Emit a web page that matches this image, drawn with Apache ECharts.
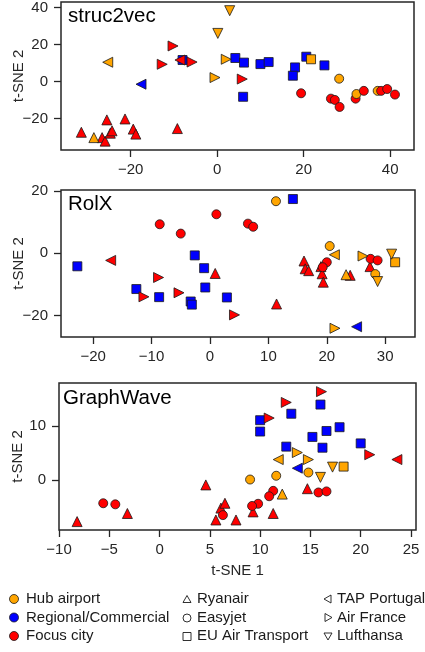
<!DOCTYPE html>
<html><head><meta charset="utf-8">
<script src="https://cdn.jsdelivr.net/npm/echarts@6/dist/echarts.min.js"></script>
<style>html,body{margin:0;padding:0;background:#fff}#c{width:425px;height:652px}</style>
</head><body><div id="c"></div>
<script>
// ---------- DATA ----------
const panelTitles = ['struc2vec', 'RolX', 'GraphWave'];
const categoryKeys = ['hub', 'reg', 'foc'];
const categoryNames = ['Hub airport', 'Regional/Commercial', 'Focus city'];
const airlineKeys = ['ryanair', 'easyjet', 'eu', 'tap', 'af', 'lh'];
const airlineNames = ['Ryanair', 'Easyjet', 'EU Air Transport', 'TAP Portugal', 'Air France', 'Lufthansa'];

// [t-SNE 1, t-SNE 2, category, airline]
const struc2vecPoints = [
  [2.9, 38.4, 'hub', 'lh'], [0.15, 26.1, 'hub', 'lh'],
  [-10.2, 19.3, 'foc', 'af'], [-12.7, 9.4, 'foc', 'af'], [-5.8, 10.6, 'foc', 'af'], [5.8, 1.4, 'foc', 'af'],
  [-25.3, 10.5, 'hub', 'tap'],
  [-8.0, 11.7, 'reg', 'eu'], [4.2, 12.8, 'reg', 'eu'], [6.2, 10.3, 'reg', 'eu'], [6.0, -8.2, 'reg', 'eu'],
  [10.0, 9.5, 'reg', 'eu'], [11.9, 10.6, 'reg', 'eu'], [20.6, 13.5, 'reg', 'eu'], [18.0, 7.7, 'reg', 'eu'],
  [17.5, 3.2, 'reg', 'eu'], [24.8, 8.8, 'reg', 'eu'],
  [-8.6, 11.7, 'foc', 'tap'],
  [-17.6, -1.4, 'reg', 'tap'],
  [2.1, 12.1, 'hub', 'af'], [-0.5, 2.2, 'hub', 'af'],
  [21.7, 12.1, 'hub', 'eu'],
  [28.2, 1.6, 'hub', 'easyjet'],
  [19.4, -6.3, 'foc', 'easyjet'], [26.3, -9.2, 'foc', 'easyjet'], [27.2, -9.9, 'foc', 'easyjet'],
  [28.3, -13.7, 'foc', 'easyjet'], [32.0, -9.2, 'foc', 'easyjet'],
  [32.2, -6.7, 'hub', 'easyjet'],
  [33.9, -5.0, 'foc', 'easyjet'],
  [37.1, -5.0, 'hub', 'easyjet'],
  [37.9, -5.0, 'foc', 'easyjet'], [39.3, -4.0, 'foc', 'easyjet'], [41.1, -7.0, 'foc', 'easyjet'],
  [-31.4, -27.4, 'foc', 'ryanair'], [-25.5, -20.7, 'foc', 'ryanair'], [-21.3, -20.2, 'foc', 'ryanair'],
  [-26.6, -30.3, 'foc', 'ryanair'], [-25.9, -32.2, 'foc', 'ryanair'], [-24.7, -27.9, 'foc', 'ryanair'],
  [-24.3, -26.6, 'foc', 'ryanair'], [-19.4, -25.7, 'foc', 'ryanair'], [-18.8, -28.4, 'foc', 'ryanair'],
  [-9.2, -25.4, 'foc', 'ryanair'],
  [-28.5, -30.3, 'hub', 'ryanair']
];

const rolxPoints = [
  [11.3, 16.7, 'hub', 'easyjet'], [20.5, 2.3, 'hub', 'easyjet'], [28.3, -6.7, 'hub', 'easyjet'],
  [14.2, 17.4, 'reg', 'eu'], [-22.7, -4.2, 'reg', 'eu'], [-2.6, -0.7, 'reg', 'eu'], [-1.0, -4.8, 'reg', 'eu'],
  [-0.8, -11.0, 'reg', 'eu'], [-12.6, -11.5, 'reg', 'eu'], [-8.7, -14.1, 'reg', 'eu'], [-3.3, -15.5, 'reg', 'eu'],
  [-3.1, -16.5, 'reg', 'eu'], [2.9, -14.2, 'reg', 'eu'],
  [-8.6, 9.3, 'foc', 'easyjet'], [-5.0, 6.3, 'foc', 'easyjet'], [1.1, 12.5, 'foc', 'easyjet'],
  [6.5, 9.5, 'foc', 'easyjet'], [7.4, 8.5, 'foc', 'easyjet'], [20.0, -2.9, 'foc', 'easyjet'],
  [19.3, -4.5, 'foc', 'easyjet'], [27.5, -1.8, 'foc', 'easyjet'], [28.7, -2.3, 'foc', 'easyjet'],
  [-17.0, -2.3, 'foc', 'tap'],
  [-8.8, -7.8, 'foc', 'af'], [-11.3, -14.0, 'foc', 'af'], [-5.3, -12.7, 'foc', 'af'], [4.2, -19.8, 'foc', 'af'],
  [0.9, -6.5, 'foc', 'ryanair'], [11.4, -16.3, 'foc', 'ryanair'], [16.1, -2.5, 'foc', 'ryanair'],
  [16.3, -5.0, 'foc', 'ryanair'], [16.9, -5.6, 'foc', 'ryanair'], [19.0, -4.3, 'foc', 'ryanair'],
  [19.2, -6.6, 'foc', 'ryanair'], [19.4, -9.3, 'foc', 'ryanair'], [24.0, -7.1, 'foc', 'ryanair'],
  [27.4, -4.3, 'foc', 'ryanair'],
  [21.3, -0.5, 'hub', 'tap'],
  [23.3, -6.9, 'hub', 'ryanair'],
  [26.2, -0.9, 'hub', 'af'], [21.4, -24.1, 'hub', 'af'],
  [28.7, -9.1, 'hub', 'lh'], [31.1, -0.3, 'hub', 'lh'],
  [31.7, -2.9, 'hub', 'eu'],
  [25.1, -23.6, 'reg', 'tap']
];

const graphwavePoints = [
  [16.1, 16.4, 'foc', 'af'], [12.6, 14.4, 'foc', 'af'], [10.9, 11.5, 'foc', 'af'], [20.9, 4.7, 'foc', 'af'],
  [23.6, 3.8, 'foc', 'tap'],
  [16.0, 14.0, 'reg', 'eu'], [13.1, 12.3, 'reg', 'eu'], [10.0, 11.1, 'reg', 'eu'], [10.0, 9.0, 'reg', 'eu'],
  [16.6, 9.1, 'reg', 'eu'], [17.9, 9.8, 'reg', 'eu'], [15.2, 8.0, 'reg', 'eu'], [12.6, 6.2, 'reg', 'eu'],
  [16.2, 6.0, 'reg', 'eu'], [20.0, 6.8, 'reg', 'eu'],
  [13.7, 5.1, 'hub', 'af'], [14.8, 3.8, 'hub', 'af'],
  [11.8, 3.8, 'hub', 'tap'],
  [13.7, 2.2, 'reg', 'tap'],
  [17.2, 2.4, 'hub', 'lh'], [16.0, 0.5, 'hub', 'lh'],
  [18.3, 2.5, 'hub', 'eu'],
  [9.0, 0.1, 'hub', 'easyjet'], [11.6, 0.8, 'hub', 'easyjet'], [14.8, 1.4, 'hub', 'easyjet'],
  [12.2, -2.6, 'hub', 'ryanair'],
  [-5.6, -4.3, 'foc', 'easyjet'], [-4.4, -4.5, 'foc', 'easyjet'], [11.3, -2.0, 'foc', 'easyjet'],
  [10.9, -3.0, 'foc', 'easyjet'], [9.8, -4.4, 'foc', 'easyjet'], [9.2, -4.8, 'foc', 'easyjet'],
  [6.3, -6.5, 'foc', 'easyjet'], [15.8, -2.3, 'foc', 'easyjet'], [16.6, -2.1, 'foc', 'easyjet'],
  [-8.2, -7.7, 'foc', 'ryanair'], [-3.2, -6.2, 'foc', 'ryanair'], [4.6, -0.9, 'foc', 'ryanair'],
  [6.1, -5.2, 'foc', 'ryanair'], [6.5, -4.3, 'foc', 'ryanair'], [5.6, -7.4, 'foc', 'ryanair'],
  [7.6, -7.4, 'foc', 'ryanair'], [9.3, -5.9, 'foc', 'ryanair'], [11.3, -6.2, 'foc', 'ryanair'],
  [14.7, -1.6, 'foc', 'ryanair']
];

const struc2vecXTicks = [-20, 0, 20, 40];
const struc2vecYTicks = [-20, 0, 20, 40];
const rolxXTicks = [-20, -10, 0, 10, 20, 30];
const rolxYTicks = [-20, 0, 20];
const graphwaveXTicks = [-10, -5, 0, 5, 10, 15, 20, 25];
const graphwaveYTicks = [0, 10];

const xAxisTitle = 't-SNE 1';
const yAxisTitle = 't-SNE 2';

// ---------- STYLE ----------
const catColor = { hub: '#FFA500', reg: '#0000FF', foc: '#FF0000' };
const airlineSymbol = {
  ryanair: { symbol: 'triangle', rotate: 0, size: 10 },
  easyjet: { symbol: 'circle', rotate: 0, size: 9 },
  eu: { symbol: 'rect', rotate: 0, size: 9 },
  tap: { symbol: 'triangle', rotate: 90, size: 10 },
  af: { symbol: 'triangle', rotate: -90, size: 10 },
  lh: { symbol: 'triangle', rotate: 180, size: 10 }
};
const ink = '#262626';
const FONT = 'Liberation Sans, Arial, sans-serif';

const panels = [
  { pts: struc2vecPoints, xt: struc2vecXTicks, yt: struc2vecYTicks,
    grid: { left: 61, top: 2, width: 353, height: 148 }, xr: [-36.1, 45.5], yr: [-37.0, 43.1],
    titlePos: { left: 68, top: 6 }, yNameGap: 35 },
  { pts: rolxPoints, xt: rolxXTicks, yt: rolxYTicks,
    grid: { left: 61, top: 190, width: 354, height: 147 }, xr: [-25.5, 35.1], yr: [-26.9, 20.3],
    titlePos: { left: 68, top: 194 }, yNameGap: 35 },
  { pts: graphwavePoints, xt: graphwaveXTicks, yt: graphwaveYTicks,
    grid: { left: 59, top: 383, width: 357, height: 147 }, xr: [-10.0, 25.5], yr: [-9.26, 18.0],
    titlePos: { left: 63, top: 388 }, yNameGap: 34 }
];

const fmt = v => String(v).replace('-', '\u2212');

const option = {
  animation: false,
  backgroundColor: '#fff',
  textStyle: { fontFamily: FONT },
  grid: [], xAxis: [], yAxis: [], series: [], title: [], graphic: []
};

panels.forEach((p, i) => {
  option.grid.push(Object.assign({ show: true, borderColor: ink, borderWidth: 1.5, backgroundColor: '#fff',
    containLabel: false, outerBoundsMode: 'none' }, p.grid));
  option.title.push(Object.assign({ text: panelTitles[i], padding: 0,
    textStyle: { fontSize: 20.5, fontWeight: 'normal', color: '#000', fontFamily: FONT } }, p.titlePos));
  option.xAxis.push({
    type: 'value', gridIndex: i, min: p.xr[0], max: p.xr[1], position: 'bottom',
    axisLine: { show: false, onZero: false }, splitLine: { show: false },
    axisTick: { show: true, inside: false, length: 7, lineStyle: { color: ink, width: 1.3 }, customValues: p.xt },
    axisLabel: { customValues: p.xt, formatter: fmt, fontSize: 15, color: ink, margin: 12, fontFamily: FONT },
    name: i === 2 ? xAxisTitle : '', nameLocation: 'middle', nameGap: 33, nameMoveOverlap: false,
    nameTextStyle: { fontSize: 15, color: ink, fontFamily: FONT }
  });
  option.yAxis.push({
    type: 'value', gridIndex: i, min: p.yr[0], max: p.yr[1], position: 'left',
    axisLine: { show: false, onZero: false }, splitLine: { show: false },
    axisTick: { show: true, inside: false, length: 7, lineStyle: { color: ink, width: 1.3 }, customValues: p.yt },
    axisLabel: { customValues: p.yt, formatter: fmt, fontSize: 15, color: ink, margin: 13, fontFamily: FONT },
    name: yAxisTitle, nameLocation: 'middle', nameRotate: 90, nameGap: p.yNameGap, nameMoveOverlap: false,
    nameTextStyle: { fontSize: 15, color: ink, fontFamily: FONT }
  });
  airlineKeys.forEach(a => {
    const s = airlineSymbol[a];
    const data = p.pts.filter(d => d[3] === a).map(d => ({
      value: [d[0], d[1]], itemStyle: { color: catColor[d[2]] }
    }));
    if (!data.length) return;
    option.series.push({
      type: 'scatter', xAxisIndex: i, yAxisIndex: i, name: a,
      symbol: s.symbol, symbolRotate: s.rotate, symbolSize: s.size,
      itemStyle: { borderColor: '#1a1a1a', borderWidth: 0.8, opacity: 1 },
      emphasis: { disabled: true }, data
    });
  });
});

// ---------- LEGEND (graphic) ----------
const rowsY = [599, 617.5, 636];
const legText = (x, y, t) => ({ type: 'text', x, y,
  style: { text: t, fontSize: 15, fill: '#1a1a1a', fontFamily: FONT, verticalAlign: 'middle', align: 'left' } });
categoryKeys.forEach((k, r) => {
  option.graphic.push({ type: 'circle', shape: { cx: 14, cy: rowsY[r], r: 4.5 },
    style: { fill: catColor[k], stroke: '#1a1a1a', lineWidth: 0.8 } });
  option.graphic.push(legText(26, rowsY[r], categoryNames[r]));
});
const openStyle = { fill: 'none', stroke: '#1a1a1a', lineWidth: 0.9 };
function triPts(cx, cy, dir) {
  const h = 4;
  if (dir === 'up') return [[cx, cy - h], [cx - h, cy + h * 0.75], [cx + h, cy + h * 0.75]];
  if (dir === 'down') return [[cx, cy + h], [cx - h, cy - h * 0.75], [cx + h, cy - h * 0.75]];
  if (dir === 'left') return [[cx - h, cy], [cx + h * 0.75, cy - h], [cx + h * 0.75, cy + h]];
  return [[cx + h, cy], [cx - h * 0.75, cy - h], [cx - h * 0.75, cy + h]];
}
const col2 = [
  { type: 'polygon', shape: { points: triPts(187, rowsY[0] + 0.5, 'up') }, style: openStyle },
  { type: 'circle', shape: { cx: 187, cy: rowsY[1] + 0.5, r: 4 }, style: openStyle },
  { type: 'rect', shape: { x: 183, y: rowsY[2] - 3.5, width: 8, height: 8 }, style: openStyle }
];
const col3 = [
  { type: 'polygon', shape: { points: triPts(328, rowsY[0], 'left') }, style: openStyle },
  { type: 'polygon', shape: { points: triPts(328, rowsY[1], 'right') }, style: openStyle },
  { type: 'polygon', shape: { points: triPts(328, rowsY[2], 'down') }, style: openStyle }
];
col2.forEach((g, r) => { option.graphic.push(g); option.graphic.push(legText(197, rowsY[r], airlineNames[r])); });
col3.forEach((g, r) => { option.graphic.push(g); option.graphic.push(legText(337, rowsY[r], airlineNames[r + 3])); });

const chart = echarts.init(document.getElementById('c'), null, { renderer: 'canvas' });
chart.setOption(option);
</script></body></html>
